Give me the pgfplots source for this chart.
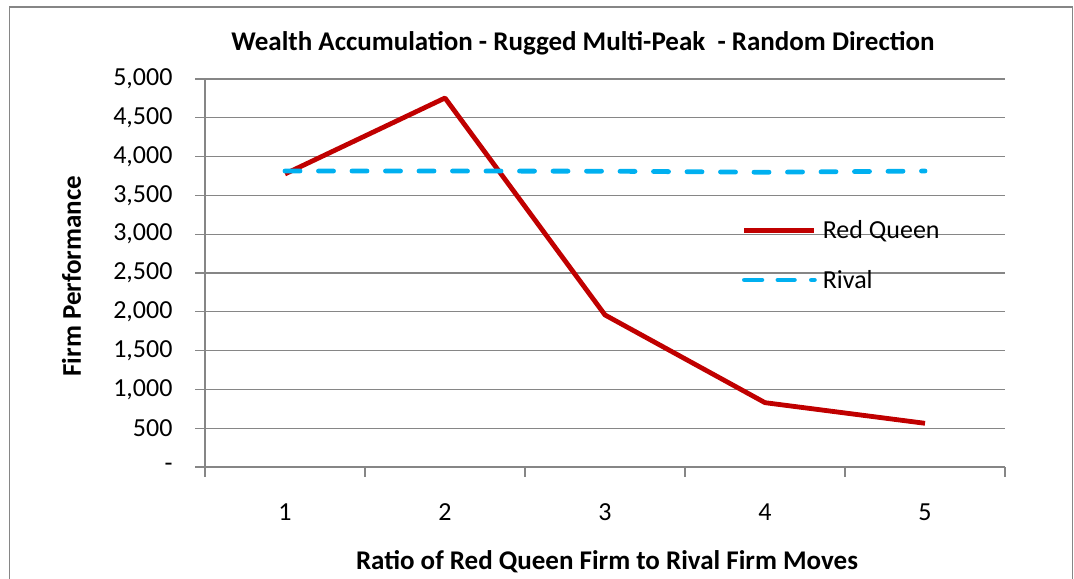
\documentclass[border=0pt]{standalone}
\usepackage{pgfplots}
\pgfplotsset{compat=1.18}
\usepackage{fontspec}
\setmainfont{Carlito}
\definecolor{rqred}{RGB}{192,0,0}
\definecolor{rvblue}{RGB}{0,176,240}
\definecolor{gridgray}{RGB}{134,134,134}
\begin{document}
\begin{tikzpicture}[x=1bp,y=1bp]
\useasboundingbox (0,0) rectangle (1074,579);
\draw[gridgray, line width=1.2bp] (9.5,-20) -- (9.5,572) -- (1072.5,572) -- (1072.5,-20);
\begin{axis}[
  at={(205bp,112bp)}, anchor=south west,
  scale only axis, width=800bp, height=388bp,
  xmin=0.5, xmax=5.5, ymin=0, ymax=5000,
  axis lines*=left,
  axis line style={gridgray, line width=1.2bp},
  tick align=outside,
  major tick length=10bp,
  tick style={gridgray, line width=1.2bp},
  xtick={0.5,1.5,...,5.5},
  x tick label as interval,
  xticklabels={1,2,3,4,5},
  ytick={0,500,...,5000},
  yticklabels={{-\hspace{13bp}},500,{1,000},{1,500},{2,000},{2,500},{3,000},{3,500},{4,000},{4,500},{5,000}},
  ymajorgrids,
  grid style={gridgray, line width=1.2bp},
  tick label style={font=\fontsize{26bp}{30bp}\selectfont},
  xticklabel style={yshift=-23bp},
  yticklabel style={xshift=-19bp},
  title={Wealth Accumulation - Rugged Multi-Peak \ - Random Direction},
  title style={font=\bfseries\fontsize{27bp}{32bp}\selectfont, at={(axis description cs:0.4725,1.059)}, anchor=base},
  xlabel={Ratio of Red Queen Firm to Rival Firm Moves},
  xlabel style={font=\bfseries\fontsize{27bp}{32bp}\selectfont, at={(axis description cs:0.5025,-0.263)}, anchor=base},
  ylabel={Firm Performance},
  ylabel style={font=\bfseries\fontsize{27bp}{32bp}\selectfont, at={(axis description cs:-0.167,0.492)}, anchor=center, rotate=0},
  legend style={draw=none, fill=none, at={(axis description cs:0.671,0.546)}, anchor=west,
    font=\fontsize{26bp}{30bp}\selectfont, row sep=26bp, inner sep=0pt, column sep=4bp},
  legend cell align=left,
  legend image code/.code={\draw[#1] (0bp,0bp) -- (70bp,0bp);},
]
\addplot[rqred, line width=4.8bp, line join=round] coordinates {
  (1,3776) (2,4755) (3,1959) (4,829) (5,563)
};
\addlegendentry{Red Queen}
\addplot[rvblue, line width=4.8bp, line cap=round, dash pattern=on 15bp off 18.5bp,
  legend image code/.code={\path (0bp,0bp) -- (70bp,0bp); \draw[rvblue, line width=4.8bp, line cap=round, dash pattern=on 15bp off 18.5bp] (2.5bp,0bp) -- (50bp,0bp);}] coordinates {
  (1,3814) (2,3814) (3,3812) (4,3798) (5,3814)
};
\addlegendentry{Rival}
\end{axis}
\end{tikzpicture}
\end{document}
